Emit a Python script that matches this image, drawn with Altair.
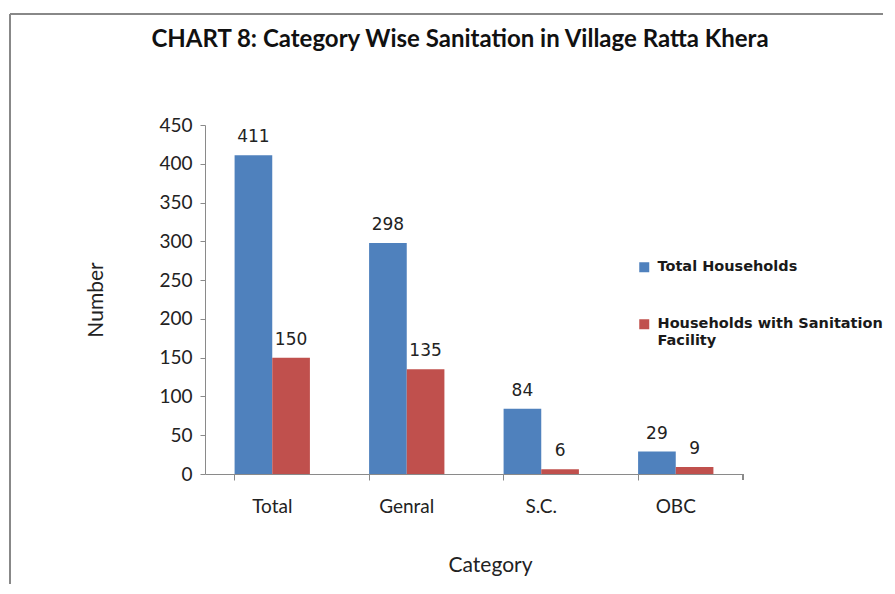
import altair as alt
import pandas as pd

title_text = ["CHART 8: Category Wise Sanitation in Village Ratta Khera"]
categories = ["Total", "Genral", "S.C.", "OBC"]
series = ["Total Households", "Households with Sanitation Facility"]
total_households = [411, 298, 84, 29]
with_sanitation = [150, 135, 6, 9]
y_ticks = [0, 50, 100, 150, 200, 250, 300, 350, 400, 450]
colors = ["#4F81BD", "#C0504D"]

rows = []
for c, a, b in zip(categories, total_households, with_sanitation):
    rows.append({"Category": c, "Series": series[0], "Value": a})
    rows.append({"Category": c, "Series": series[1], "Value": b})
df = pd.DataFrame(rows)

x_enc = alt.X("Category:N", sort=categories,
              scale=alt.Scale(paddingInner=0.44, paddingOuter=0.22),
              axis=alt.Axis(title="Category", labelAngle=0, bandPosition=0,
                            tickSize=6, labelPadding=17, titlePadding=38, titleX=285,
                            labelFont="Lato", labelFontSize=19, labelColor="#222",
                            titleFont="Lato", titleFontSize=21, titleFontWeight="normal",
                            titleColor="#222", domainColor="#8a8a8a", tickColor="#8a8a8a"))
y_enc = alt.Y("Value:Q", scale=alt.Scale(domain=[0, 450]),
              axis=alt.Axis(title="Number", values=y_ticks, grid=False,
                            labelOverlap=False,
                            tickSize=5, labelPadding=8, titlePadding=52,
                            labelFont="Lato", labelFontSize=19, labelColor="#222",
                            titleFont="Lato", titleFontSize=21, titleFontWeight="normal",
                            titleColor="#222", domainColor="#8a8a8a", tickColor="#8a8a8a"))
color_enc = alt.Color("Series:N", sort=series,
                      scale=alt.Scale(domain=series, range=colors),
                      legend=alt.Legend(title=None, orient="none", legendX=432, legendY=135,
                                        symbolType="square", symbolSize=100,
                                        symbolStrokeWidth=0, rowPadding=42,
                                        labelFont="DejaVu Sans", labelFontSize=14.5,
                                        labelFontWeight="bold",
                                        labelColor="#1a1a1a", labelLimit=400, labelOffset=6,
                                        labelExpr="datum.label == 'Households with Sanitation Facility' ? ['Households with Sanitation', 'Facility'] : datum.label"))
xoff = alt.XOffset("Series:N", sort=series, scale=alt.Scale(domain=series, paddingInner=0, paddingOuter=0))

bars = alt.Chart(df).mark_bar().encode(
    x=x_enc,
    xOffset=xoff,
    y=y_enc,
    color=color_enc,
)

labels = alt.Chart(df).mark_text(baseline="bottom", dy=-9, font="DejaVu Sans",
                                 fontSize=17, color="#222").encode(
    x=x_enc,
    xOffset=xoff,
    y=y_enc,
    text="Value:Q",
)

title = alt.Chart(pd.DataFrame({"t": title_text})).mark_text(
    font="Lato", fontSize=24, fontWeight="bold", color="#111", baseline="middle"
).encode(text="t:N", x=alt.value(255), y=alt.value(-85))

frame_top = alt.Chart(df).mark_rule(color="#888888", strokeWidth=2).encode(
    x=alt.value(-195), x2=alt.value(700), y=alt.value(-111))
frame_left = alt.Chart(df).mark_rule(color="#888888", strokeWidth=2).encode(
    x=alt.value(-195), y=alt.value(-111), y2=alt.value(470))
end_tick = alt.Chart(df).mark_rule(color="#8a8a8a").encode(
    x=alt.value(538), y=alt.value(349), y2=alt.value(355))

chart = alt.layer(frame_top, frame_left, title, bars, labels, end_tick).properties(
    width=538, height=349,
    autosize=alt.AutoSizeParams(type="none"),
    padding={"left": 197, "top": 117, "right": 140, "bottom": 110},
).configure_view(stroke=None)

chart.save("out.html", embed_options={"renderer": "svg", "actions": False})
